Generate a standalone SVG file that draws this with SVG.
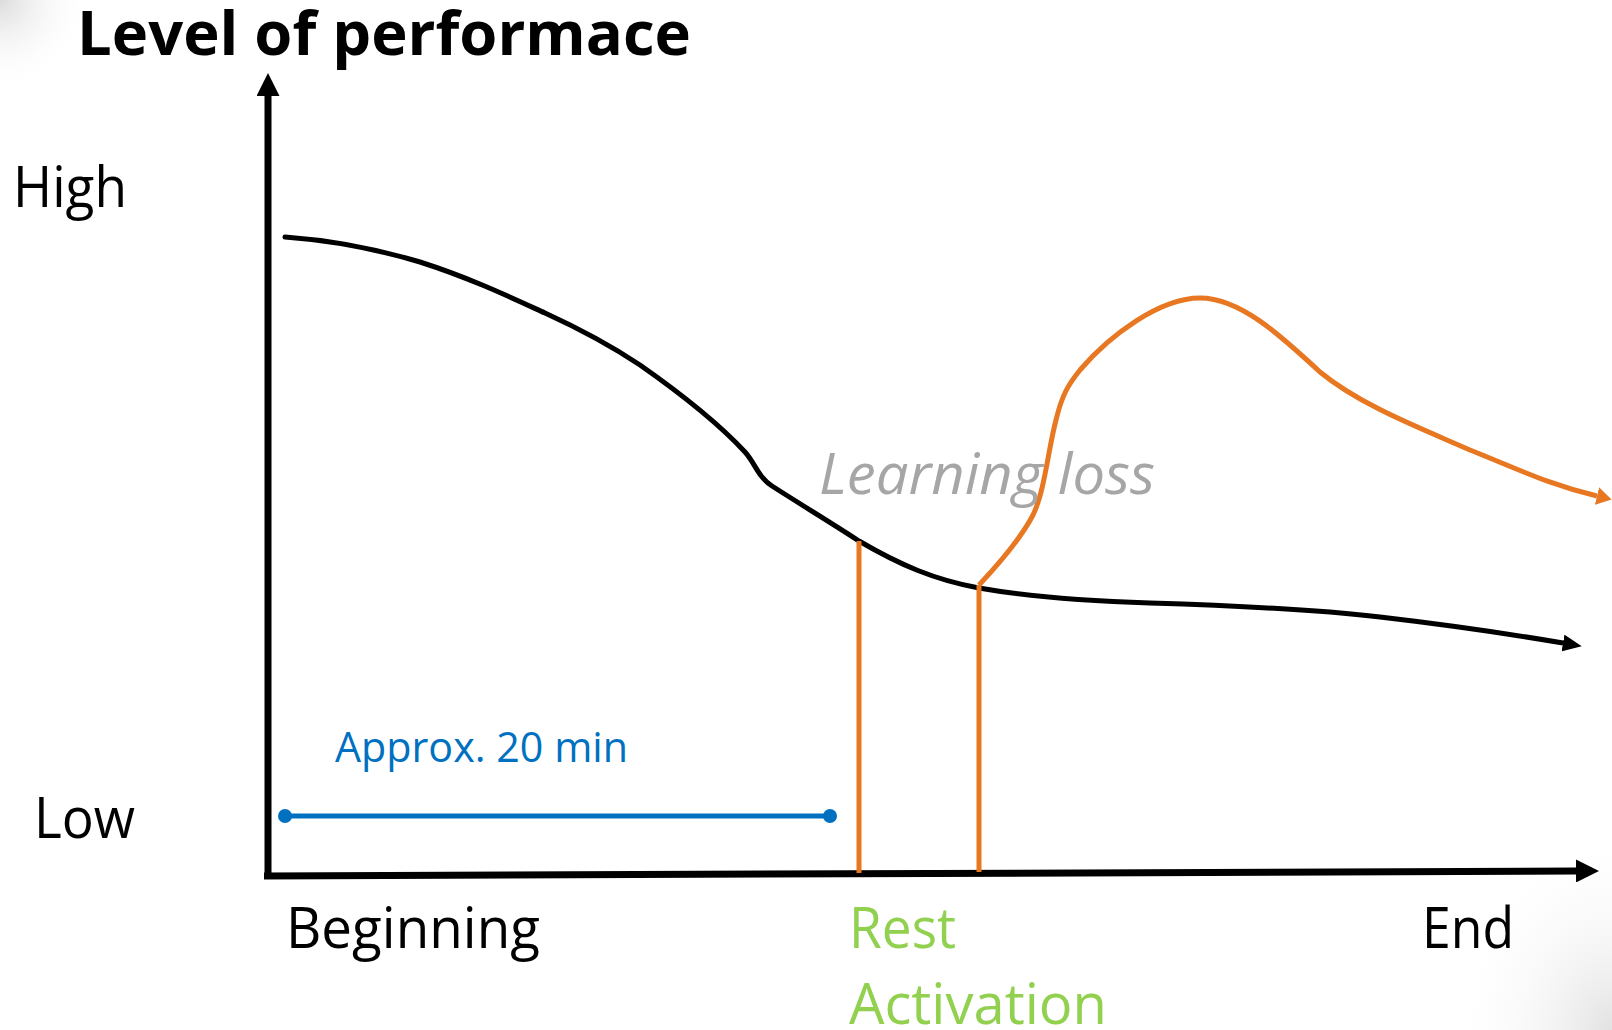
<svg xmlns="http://www.w3.org/2000/svg" width="1612" height="1030" viewBox="0 0 1612 1030">
  <defs>
    <radialGradient id="tl" cx="0" cy="0" r="1" gradientUnits="objectBoundingBox">
      <stop offset="0" stop-color="#dcdcdc"/>
      <stop offset="1" stop-color="#ffffff" stop-opacity="0"/>
    </radialGradient>
    <radialGradient id="br" cx="1" cy="1" r="1" gradientUnits="objectBoundingBox">
      <stop offset="0" stop-color="#e2e2e2"/>
      <stop offset="1" stop-color="#ffffff" stop-opacity="0"/>
    </radialGradient>
    <marker id="axisHead" markerUnits="userSpaceOnUse" viewBox="0 0 23 23" markerWidth="23" markerHeight="23" refX="0" refY="11.5" orient="auto">
      <path d="M0,0 L23,11.5 L0,23 z" fill="#000"/>
    </marker>
    <marker id="blackHead" markerUnits="userSpaceOnUse" viewBox="0 0 19 17" markerWidth="19" markerHeight="17" refX="0" refY="8.5" orient="auto">
      <path d="M0,0 L19,8.5 L0,17 z" fill="#000"/>
    </marker>
    <marker id="orangeHead" markerUnits="userSpaceOnUse" viewBox="0 0 15 18" markerWidth="15" markerHeight="18" refX="0" refY="9" orient="auto">
      <path d="M0,0 L15,9 L0,18 z" fill="#E87722"/>
    </marker>
    <marker id="dot" markerUnits="userSpaceOnUse" viewBox="0 0 16 16" markerWidth="16" markerHeight="16" refX="8" refY="8" orient="auto">
      <circle cx="8" cy="8" r="7" fill="#0070C0"/>
    </marker>
  </defs>
  <style>
    .lbl { font-family: "Open Sans", "Noto Sans", "Liberation Sans", sans-serif; font-size: 56px; fill: #000; }
    .title { font-family: "Open Sans", "Noto Sans", "Liberation Sans", sans-serif; font-size: 60px; font-weight: bold; fill: #000; }
    .green { fill: #92D050; }
    .loss { font-family: "Open Sans", "Noto Sans", "Liberation Sans", sans-serif; font-size: 57px; font-style: italic; fill: #A6A6A6; }
    .approx { font-family: "Open Sans", "Noto Sans", "Liberation Sans", sans-serif; font-size: 42px; fill: #0070C0; }
    .axis { fill: none; stroke: #000; stroke-width: 7; }
    .curve { fill: none; stroke: #000; stroke-width: 5; stroke-linecap: round; }
    .orange { fill: none; stroke: #E87722; stroke-width: 5; }
    .blue { fill: none; stroke: #0070C0; stroke-width: 5; }
  </style>
  <rect x="0" y="0" width="1612" height="1030" fill="#fff"/>
  <rect x="0" y="0" width="90" height="90" fill="url(#tl)"/>
  <rect x="1452" y="830" width="160" height="200" fill="url(#br)"/>

  <g id="title"><text class="title" x="77" y="55" textLength="614" lengthAdjust="spacingAndGlyphs">Level of performace</text></g>
  <g id="high"><text class="lbl" x="13" y="207" textLength="114" lengthAdjust="spacingAndGlyphs">High</text></g>
  <g id="low"><text class="lbl" x="34" y="838" textLength="101" lengthAdjust="spacingAndGlyphs">Low</text></g>
  <g id="beginning"><text class="lbl" x="286" y="948" textLength="254" lengthAdjust="spacingAndGlyphs">Beginning</text></g>
  <g id="rest"><text class="lbl green" x="849" y="948" textLength="107" lengthAdjust="spacingAndGlyphs">Rest</text></g>
  <g id="activation"><text class="lbl green" x="849" y="1024" textLength="258" lengthAdjust="spacingAndGlyphs">Activation</text></g>
  <g id="end"><text class="lbl" x="1422" y="948" textLength="92" lengthAdjust="spacingAndGlyphs">End</text></g>
  <g id="approx"><text class="approx" x="335" y="762" textLength="293" lengthAdjust="spacingAndGlyphs">Approx. 20 min</text></g>

  <g id="connectors">
    <path class="axis" d="M268,878 L268,96" marker-end="url(#axisHead)"/>
    <path class="axis" d="M264,876 L1576,871" marker-end="url(#axisHead)"/>
    <path class="curve" d="M285,237 C340,241 380,250 420,262 C470,278 510,297 545,313 C580,329 610,345 640,365 C680,393 720,425 745,452 C755,463 758,477 772,486 C800,504 830,522 859,541 C900,565 935,580 979,588 C1030,597 1080,601 1150,603 C1250,606 1320,610 1380,617 C1440,624 1510,634 1563,643" marker-end="url(#blackHead)"/>
    <path class="orange" d="M859,541 L859,873"/>
    <path class="orange" d="M979,585 L979,872"/>
    <path class="orange" d="M979,585 C995,568 1020,540 1033,515 C1045,490 1048,450 1056,420 C1062,395 1068,385 1080,370 C1110,335 1160,298 1200,298 C1240,298 1280,335 1320,372 C1360,405 1420,428 1470,450 C1520,470 1550,485 1597,496" marker-end="url(#orangeHead)"/>
    <path class="blue" d="M285,816 L830,816" marker-start="url(#dot)" marker-end="url(#dot)"/>
  </g>
  <g id="learning-loss"><text class="loss" x="819" y="494" textLength="336" lengthAdjust="spacingAndGlyphs">Learning loss</text></g>
</svg>
